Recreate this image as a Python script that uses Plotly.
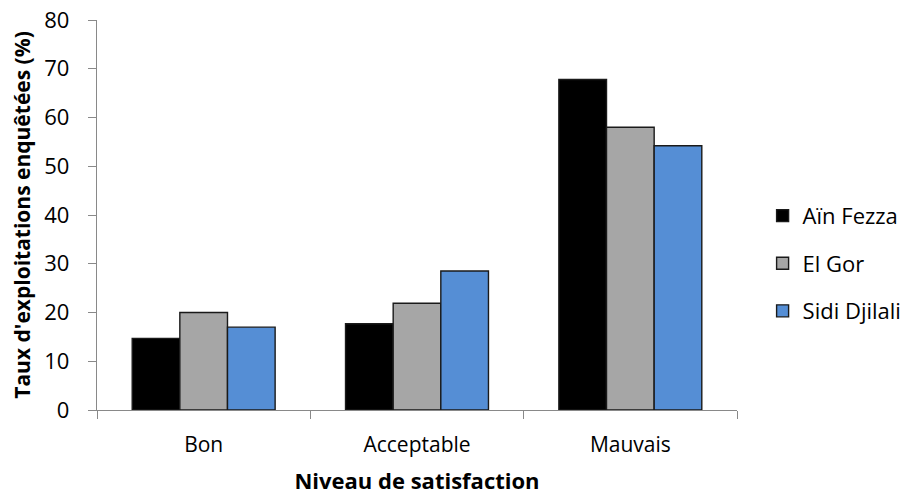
import plotly.graph_objects as go

categories = ["Bon", "Acceptable", "Mauvais"]
ain_fezza = [14.7, 17.7, 67.8]
el_gor = [20.0, 21.9, 58.0]
sidi_djilali = [17.0, 28.5, 54.2]
series_names = ["Aïn Fezza", "El Gor", "Sidi Djilali"]
y_ticks = [0, 10, 20, 30, 40, 50, 60, 70, 80]

colors = ["#000000", "#A6A6A6", "#558ED5"]
FONT = "Open Sans, Liberation Sans, sans-serif"

fig = go.Figure()
for i, (name, vals) in enumerate(zip(series_names, [ain_fezza, el_gor, sidi_djilali])):
    fig.add_trace(go.Bar(
        x=categories, y=vals, name=name,
        marker=dict(color=colors[i], line=dict(color="#1a1a1a", width=1.4)),
        legendgroup=f"g{i}",
    ))

fig.update_layout(
    width=908, height=497,
    margin=dict(l=97, r=171, t=20, b=87, autoexpand=False),
    paper_bgcolor="white", plot_bgcolor="white",
    barmode="group", bargap=0.33, bargroupgap=0,
    font=dict(family=FONT, size=21, color="#000000"),
    legend=dict(
        x=1.04, y=0.376, xanchor="left", yanchor="middle",
        font=dict(size=22, family=FONT),
        traceorder="grouped", tracegroupgap=16,
        bgcolor="rgba(0,0,0,0)",
    ),
    xaxis=dict(
        automargin=False,
        showline=True, linecolor="#898989", linewidth=1.4,
        ticks="outside", tickson="boundaries", ticklen=8, tickcolor="#898989",
        tickfont=dict(size=21, family=FONT),
        ticklabelstandoff=16,
        title=dict(text="<b>Niveau de satisfaction</b>", font=dict(size=22, family=FONT), standoff=16),
        showgrid=False,
    ),
    yaxis=dict(
        automargin=False,
        range=[0, 80], tickvals=y_ticks,
        showline=True, linecolor="#898989", linewidth=1.4,
        ticks="outside", ticklen=8, tickcolor="#898989",
        tickfont=dict(size=22, family=FONT),
        ticklabelstandoff=14, ticklabeloverflow="allow",
        title=dict(text="<b>Taux d'exploitations enquêtées (%)</b>", font=dict(size=21, family=FONT), standoff=7),
        showgrid=False, zeroline=False,
    ),
)

fig.write_html("out.html", config={"displayModeBar": False},
               post_script="document.body.style.margin='0';")
